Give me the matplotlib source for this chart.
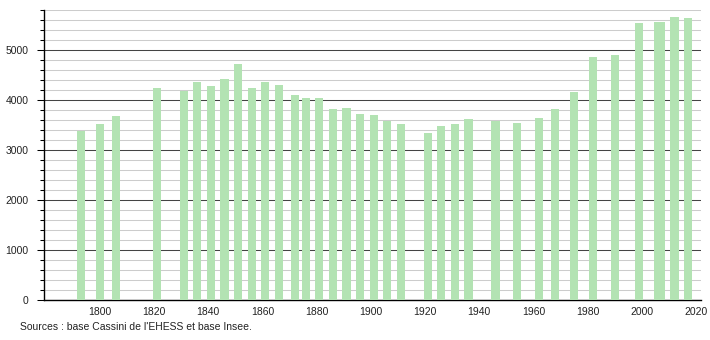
import matplotlib.pyplot as plt
from matplotlib.ticker import MultipleLocator

# population by census year
years = [1793, 1800, 1806, 1821, 1831, 1836, 1841, 1846, 1851, 1856,
         1861, 1866, 1872, 1876, 1881, 1886, 1891, 1896, 1901, 1906,
         1911, 1921, 1926, 1931, 1936, 1946, 1954, 1962, 1968, 1975,
         1982, 1990, 1999, 2006, 2007, 2012, 2017]
population = [3380, 3520, 3680, 4240, 4180, 4360, 4280, 4420, 4720, 4240,
              4360, 4300, 4100, 4040, 4040, 3820, 3840, 3720, 3700, 3590,
              3520, 3340, 3480, 3520, 3620, 3580, 3540, 3640, 3820, 4160,
              4860, 4900, 5540, 5560, 5560, 5660, 5640]
xticks = [1800, 1820, 1840, 1860, 1880, 1900, 1920, 1940, 1960, 1980, 2000, 2020]
source = "Sources : base Cassini de l'EHESS et base Insee."

plt.rcParams['font.family'] = ['Liberation Sans', 'DejaVu Sans']

fig = plt.figure(figsize=(7.1, 3.4), dpi=100)
ax = fig.add_axes([44/710, 40/340, (701-44)/710, 290/340])

ax.bar(years, population, width=3, color='#b3e3b3', zorder=3)

ax.set_xlim(1779.4, 2021.8)
ax.set_ylim(0, 5800)
ax.set_xticks(xticks)
ax.yaxis.set_major_locator(MultipleLocator(1000))
ax.yaxis.set_minor_locator(MultipleLocator(200))

ax.grid(axis='y', which='minor', color='#cccccc', lw=0.75, zorder=1)
ax.grid(axis='y', which='major', color='#444444', lw=0.75, zorder=2)

for s in ['top', 'right']:
    ax.spines[s].set_visible(False)
ax.spines['left'].set_linewidth(1)
ax.spines['bottom'].set_linewidth(1)

ax.tick_params(axis='x', length=0, labelsize=7.5, pad=5, labelcolor='#222222')
ax.tick_params(axis='y', which='major', length=5, width=0.75, labelsize=7.5, pad=6,
               labelcolor='#222222')
ax.tick_params(axis='y', which='minor', length=3, width=0.75)

fig.text(20/710, 1 - 327/340, source, fontsize=7.5, va='center', ha='left',
         color='#222222')

fig.savefig('out.png', dpi=100)
